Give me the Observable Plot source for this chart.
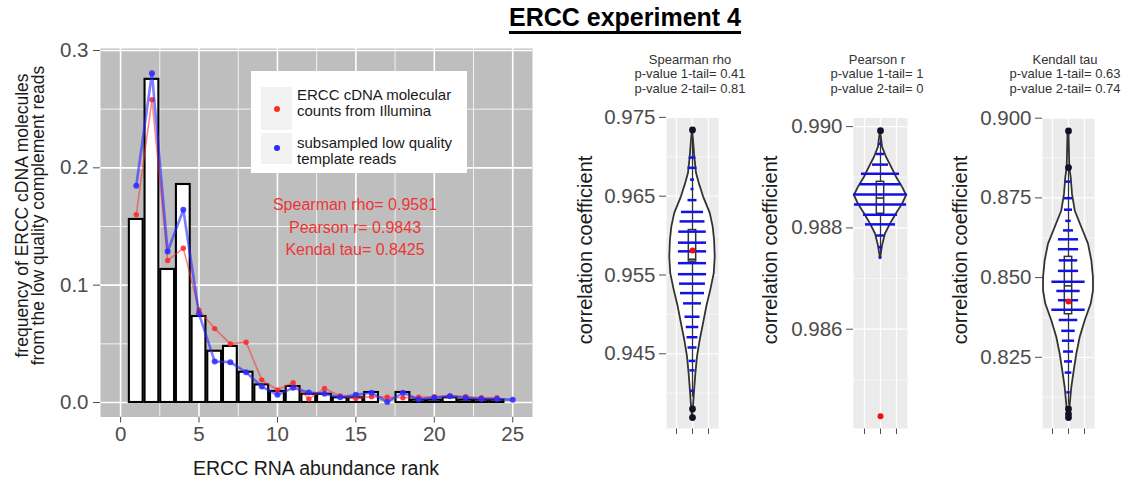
<!DOCTYPE html>
<html><head><meta charset="utf-8">
<script src="https://cdn.jsdelivr.net/npm/d3@7"></script>
<script src="https://cdn.jsdelivr.net/npm/@observablehq/plot@0.6"></script>
<style>
body{margin:0;background:#fff;font-family:"Liberation Sans",Arial,Helvetica,sans-serif;}
#root{position:relative;width:1134px;height:483px;overflow:hidden;background:#fff;}
.ctitle{position:absolute;width:160px;text-align:center;font-size:13px;line-height:14.5px;color:#333;}
</style></head><body><div id="root"></div>
<script>
// ---------- main chart data ----------
const barRanks = [1,2,3,4,5,6,7,8,9,10,11,12,13,14,15,16,17,18,19,20,21,22,23,24];
const barFreq  = [0.156,0.2754,0.1134,0.1858,0.0733,0.0437,0.0478,0.0258,0.015,0.0094,0.0136,0.007,0.007,0.004,0.004,0.0085,0,0.0085,0.002,0.002,0.004,0.002,0.002,0.002];
const illuminaRanks = [1,2,3,4,5,6,7,8,9,10,11,12,13,14,15,16,17,18,19,20,21,22,23,24];
const illuminaFreq  = [0.160,0.258,0.121,0.1315,0.0787,0.063,0.050,0.0514,0.0193,0.0108,0.0168,0.003,0.012,0.0055,0.0035,0.005,0.0045,0.004,0.0045,0.005,0.0055,0.005,0.004,0.004];
const subsampledRanks = [1,2,3,4,5,6,7,8,9,10,11,12,13,14,15,16,17,18,19,20,21,22,23,24,25];
const subsampledFreq  = [0.1847,0.2807,0.1287,0.1643,0.0756,0.035,0.0344,0.0258,0.0136,0.0065,0.0125,0.0085,0.0074,0.0045,0.0066,0.0083,0.0005,0.0083,0.0026,0.004,0.0054,0.004,0.003,0.003,0.0023];
const xTicks = [0,5,10,15,20,25];
const xMinor = [2.5,7.5,12.5,17.5,22.5];
const yTicks = [0,0.1,0.2,0.3];
const yMinor = [0.05,0.15,0.25];
const legendLabels = [["ERCC cDNA molecular","counts from Illumina"],["subsampled low quality","template reads"]];
const statsLines = ["Spearman rho= 0.9581","Pearson r= 0.9843","Kendal tau= 0.8425"];

// ---------- violin data (half widths in x-scale units) ----------
const spearmanOutlineV = [0.97341,0.97214,0.97001,0.96790,0.96663,0.96492,0.96281,0.96111,0.95941,0.95729,0.95518,0.95305,0.95093,0.94882,0.94669,0.94457,0.94246,0.94033,0.93821,0.93693];
const spearmanOutlineW = [0,0.06,0.14,0.25,0.42,0.69,1.11,1.29,1.38,1.42,1.36,1.14,0.89,0.69,0.48,0.31,0.21,0.13,0.06,0];
const spearmanBeanV = [0.9699,0.9686,0.9671,0.9659,0.9645,0.9630,0.9618,0.9605,0.9591,0.9580,0.9565,0.9551,0.9539,0.9527,0.9514,0.9497,0.9484,0.9471,0.9458,0.9441,0.9429,0.9403];
const spearmanBeanW = [0.21,0.28,0.12,0.09,0.28,0.69,0.78,0.86,0.88,0.88,0.88,0.88,0.81,0.75,0.56,0.47,0.39,0.34,0.28,0.21,0.16,0.12];
const spearmanBox = [0.9567,0.9570,0.9607];      // q1, median, q3
const spearmanWhisker = [0.9395,0.9725];
const spearmanOutliers = [0.9734,0.9380,0.9369];
const spearmanObserved = 0.9581;
const spearmanTicks = [0.945,0.955,0.965,0.975];
const spearmanMinor = [0.940,0.950,0.960,0.970];

const pearsonOutlineV = [0.98992,0.98959,0.98939,0.98920,0.98900,0.98880,0.98864,0.98847,0.98828,0.98808,0.98788,0.98765,0.98739];
const pearsonOutlineW = [0,0.13,0.38,0.69,1.0,1.38,1.63,1.38,1.0,0.63,0.31,0.13,0];
const pearsonBeanV = [0.98966,0.98946,0.98925,0.98907,0.98886,0.98866,0.98846,0.98826,0.98807,0.98785,0.98762,0.98742];
const pearsonBeanW = [0.09,0.25,0.5,1.19,1.31,1.69,1.63,1.06,0.94,0.25,0.13,0.09];
const pearsonBox = [0.98828,0.98859,0.98891];
const pearsonWhisker = [0.98739,0.98975];
const pearsonOutliers = [0.98992];
const pearsonObserved = 0.98428;
const pearsonTicks = [0.986,0.988,0.990];
const pearsonMinor = [0.985,0.987,0.989];

const kendallOutlineV = [0.8960,0.8845,0.8813,0.8761,0.8709,0.8657,0.8605,0.8552,0.8500,0.8458,0.8417,0.8364,0.8312,0.8260,0.8208,0.8156,0.8103,0.8061,0.8056];
const kendallOutlineW = [0.03,0.08,0.17,0.25,0.42,0.83,1.25,1.46,1.56,1.56,1.42,1.04,0.73,0.52,0.36,0.21,0.11,0.04,0];
const kendallBeanV = [0.8801,0.8749,0.8713,0.8678,0.8648,0.8620,0.8589,0.8554,0.8521,0.8487,0.8458,0.8429,0.8399,0.8367,0.8333,0.8302,0.8268,0.8237,0.8202,0.8140];
const kendallBeanW = [0.17,0.25,0.25,0.17,0.31,0.63,0.63,0.58,0.63,1.04,0.73,0.63,1.04,0.58,0.42,0.38,0.31,0.25,0.21,0.11];
const kendallBox = [0.8385,0.8474,0.8565];
const kendallWhisker = [0.8100,0.8840];
const kendallOutliers = [0.8960,0.8845,0.8088,0.8072,0.8061];
const kendallObserved = 0.8425;
const kendallTicks = [0.825,0.850,0.875,0.900];
const kendallMinor = [0.8125,0.8375,0.8625,0.8875];

const panelTitles = [
  ["Spearman rho","p-value 1-tail= 0.41","p-value 2-tail= 0.81"],
  ["Pearson r","p-value 1-tail= 1","p-value 2-tail= 0"],
  ["Kendall tau","p-value 1-tail= 0.63","p-value 2-tail= 0.74"]
];

const root = document.getElementById("root");
const FONT = "Liberation Sans, Arial, Helvetica, sans-serif";
function place(node, left, top) {
  const d = document.createElement("div");
  d.style.position = "absolute"; d.style.left = left + "px"; d.style.top = top + "px";
  d.appendChild(node); root.appendChild(d); return d;
}
function addHTML(html, css) {
  const d = document.createElement("div");
  d.innerHTML = html; d.style.cssText = css; root.appendChild(d); return d;
}

// ---------- main plot ----------
const bars = barRanks.map((r,i)=>({rank:r, freq:barFreq[i]})).filter(d=>d.freq>0);
const illumina = illuminaRanks.map((r,i)=>({rank:r, freq:illuminaFreq[i]}));
const subsampled = subsampledRanks.map((r,i)=>({rank:r, freq:subsampledFreq[i]}));

const main = Plot.plot({
  width: 545, height: 483,
  marginLeft: 100, marginRight: 13, marginTop: 48, marginBottom: 66.5,
  style: {fontFamily: FONT, fontSize: "20.5px", color: "#4d4d4d", background: "none", overflow: "visible"},
  x: {domain: [-1.28, 26.26], ticks: xTicks, tickSize: 6, tickPadding: 3, label: null},
  y: {domain: [-0.01236, 0.3017], ticks: yTicks, tickSize: 7, tickPadding: 5, tickFormat: ".1f", label: null},
  marks: [
    Plot.frame({fill: "#bebebe", stroke: "none"}),
    Plot.ruleX(xMinor, {stroke: "#fff", strokeWidth: 0.8}),
    Plot.ruleY(yMinor, {stroke: "#fff", strokeWidth: 0.8}),
    Plot.ruleX(xTicks, {stroke: "#fff", strokeWidth: 1.6}),
    Plot.ruleY(yTicks, {stroke: "#fff", strokeWidth: 1.6}),
    Plot.rect(bars, {x1: d=>d.rank-0.44, x2: d=>d.rank+0.44, y1: ()=>0, y2: "freq", fill: "#fff", stroke: "#000", strokeWidth: 2.1}),
    Plot.line(illumina, {x: "rank", y: "freq", stroke: "#ff2a2a", strokeOpacity: 0.55, strokeWidth: 1.6}),
    Plot.dot(illumina, {x: "rank", y: "freq", r: 2.7, fill: "#ff2a2a", fillOpacity: 0.9}),
    Plot.line(subsampled, {x: "rank", y: "freq", stroke: "#2626ff", strokeOpacity: 0.6, strokeWidth: 2.6}),
    Plot.dot(subsampled, {x: "rank", y: "freq", r: 3, fill: "#2a2aff", fillOpacity: 0.85})
  ]
});
place(main, 0, 0);

// legend
addHTML("", "position:absolute;left:251px;top:71px;width:216px;height:102px;background:#fff;");
addHTML("", "position:absolute;left:261px;top:87px;width:31px;height:43px;background:#f2f2f2;");
addHTML("", "position:absolute;left:261px;top:133px;width:31px;height:31px;background:#f2f2f2;");
addHTML("", "position:absolute;left:273.5px;top:106px;width:6px;height:6px;border-radius:50%;background:#ff2a2a;");
addHTML("", "position:absolute;left:273.5px;top:145px;width:6px;height:6px;border-radius:50%;background:#2a2aff;");
addHTML(legendLabels[0].join("<br>"), "position:absolute;left:297px;top:86.8px;font-size:15px;line-height:16px;color:#1a1a1a;white-space:nowrap;");
addHTML(legendLabels[1].join("<br>"), "position:absolute;left:297px;top:134.5px;font-size:15px;line-height:16px;color:#1a1a1a;white-space:nowrap;");
// stats annotation
addHTML(statsLines.join("<br>"), "position:absolute;left:255px;top:194px;width:200px;text-align:center;font-size:16px;line-height:22.5px;color:#ee3535;");
// axis titles
addHTML("ERCC RNA abundance rank", "position:absolute;left:116px;top:457px;width:400px;text-align:center;font-size:19.5px;line-height:22px;color:#1a1a1a;");
addHTML("frequency of ERCC cDNA molecules<br>from the low quality complement reads",
  "position:absolute;left:" + (30-170) + "px;top:" + (215-15.5) + "px;width:340px;height:31px;font-size:17.5px;line-height:15.5px;color:#1a1a1a;transform:rotate(-90deg);text-align:center;white-space:nowrap;");
// main title
addHTML("ERCC experiment 4", "position:absolute;left:425px;top:5px;width:400px;text-align:center;font-size:25px;line-height:24px;font-weight:bold;color:#000;text-decoration:underline;text-underline-offset:5px;text-decoration-thickness:2.5px;");

// ---------- violins ----------
function violin(cfg) {
  const outline = cfg.outlineV.map((v,i)=>({v, w: cfg.outlineW[i]}));
  const beans = cfg.beanV.map((v,i)=>({v, w: cfg.beanW[i]}));
  const box = [{q1: cfg.box[0], med: cfg.box[1], q3: cfg.box[2]}];
  const whisk = [{lo: cfg.whisker[0], hi: cfg.whisker[1]}];
  const bw = 0.23;
  const half = cfg.panelW / 32;
  const svg = Plot.plot({
    width: cfg.marginLeft + cfg.panelW + 20, height: 483,
    marginLeft: cfg.marginLeft, marginRight: 20, marginTop: 117.5, marginBottom: 55,
    style: {fontFamily: FONT, fontSize: "20.5px", color: "#4d4d4d", background: "none", overflow: "visible"},
    x: {domain: [-half, half], ticks: [-1,0,1], tickFormat: () => "", tickSize: 6, label: null},
    y: {domain: cfg.domain, ticks: cfg.ticks, tickFormat: ".3f", tickSize: 7, tickPadding: 4, label: null},
    marks: [
      Plot.frame({fill: "#ebebeb", stroke: "none"}),
      Plot.ruleY(cfg.minor, {stroke: "#fff", strokeWidth: 0.6}),
      Plot.ruleY(cfg.ticks, {stroke: "#fff", strokeWidth: 1.3}),
      Plot.ruleX([-1,0,1], {stroke: "#fff", strokeWidth: 1.3}),
      Plot.areaX(outline, {y: "v", x1: d=>-d.w, x2: d=>d.w, fill: "#fff", stroke: "#333", strokeWidth: 1.8}),
      Plot.ruleX(whisk, {x: ()=>0, y1: "lo", y2: "hi", stroke: "#333", strokeWidth: 1.3}),
      Plot.rect(box, {x1: ()=>-bw, x2: ()=>bw, y1: "q1", y2: "q3", fill: "#fff", stroke: "#333", strokeWidth: 1.5}),
      Plot.ruleY(beans, {y: "v", x1: d=>-d.w, x2: d=>d.w, stroke: "#1212e6", strokeWidth: 2.5}),
      Plot.ruleY(box, {y: "med", x1: ()=>-bw, x2: ()=>bw, stroke: "#333", strokeWidth: 1.6}),
      Plot.dot(cfg.outliers, {x: ()=>0, y: d=>d, r: 3.4, fill: "#111122"}),
      Plot.dot([cfg.observed], {x: ()=>0, y: d=>d, r: 3, fill: "#ee1111"})
    ]
  });
  place(svg, cfg.left, 0);
  addHTML("correlation coefficient", "position:absolute;left:" + (cfg.labelX-150) + "px;top:" + (250-11) + "px;width:300px;height:22px;font-size:20px;line-height:22px;color:#1a1a1a;transform:rotate(-90deg);text-align:center;white-space:nowrap;");
  const t = document.createElement("div");
  t.className = "ctitle"; t.innerHTML = cfg.title.join("<br>");
  t.style.left = (cfg.titleX - 80) + "px"; t.style.top = "52.5px";
  root.appendChild(t);
}

violin({left: 560, marginLeft: 106, panelW: 52, domain: [0.93552, 0.97492], ticks: spearmanTicks, minor: spearmanMinor,
  outlineV: spearmanOutlineV, outlineW: spearmanOutlineW, beanV: spearmanBeanV, beanW: spearmanBeanW,
  box: spearmanBox, whisker: spearmanWhisker, outliers: spearmanOutliers, observed: spearmanObserved,
  labelX: 585, titleX: 690, title: panelTitles[0]});
violin({left: 755, marginLeft: 98, panelW: 54, domain: [0.98404, 0.99017], ticks: pearsonTicks, minor: pearsonMinor,
  outlineV: pearsonOutlineV, outlineW: pearsonOutlineW, beanV: pearsonBeanV, beanW: pearsonBeanW,
  box: pearsonBox, whisker: pearsonWhisker, outliers: pearsonOutliers, observed: pearsonObserved,
  labelX: 770, titleX: 877, title: panelTitles[1]});
violin({left: 940, marginLeft: 102, panelW: 52, domain: [0.80266, 0.90006], ticks: kendallTicks, minor: kendallMinor,
  outlineV: kendallOutlineV, outlineW: kendallOutlineW, beanV: kendallBeanV, beanW: kendallBeanW,
  box: kendallBox, whisker: kendallWhisker, outliers: kendallOutliers, observed: kendallObserved,
  labelX: 960, titleX: 1065, title: panelTitles[2]});
</script></body></html>
